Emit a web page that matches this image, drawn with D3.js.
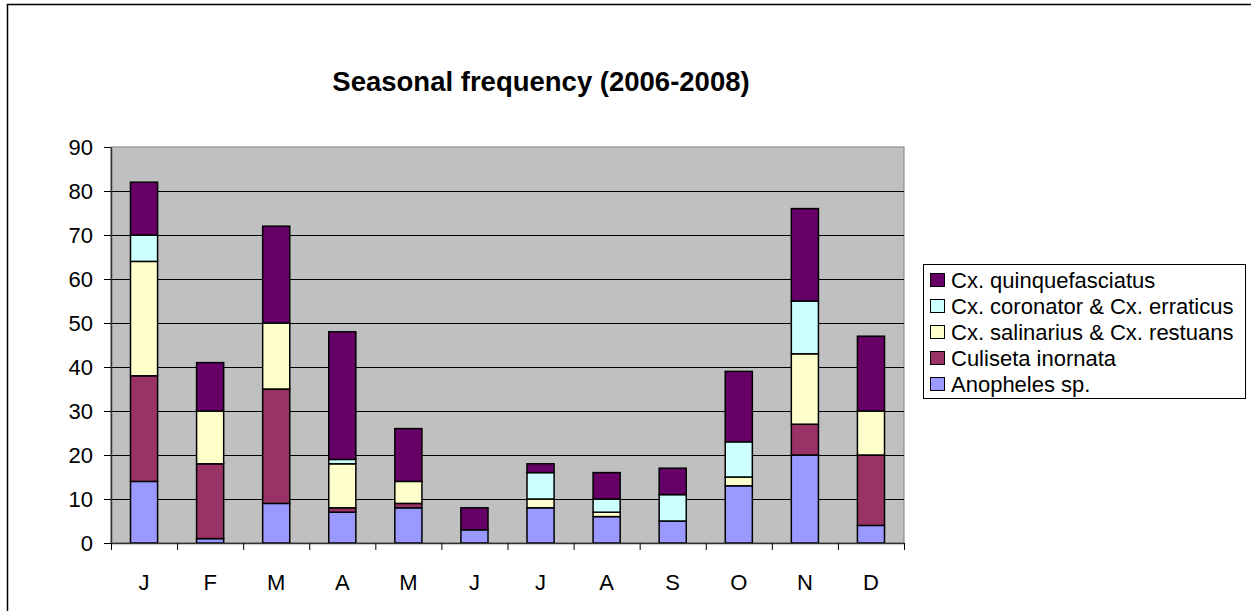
<!DOCTYPE html>
<html><head><meta charset="utf-8">
<script src="https://cdn.jsdelivr.net/npm/d3@7"></script>
<style>body{margin:0;background:#fff}svg{display:block}text{font-family:"Liberation Sans",Arial,sans-serif}</style>
</head><body><svg id="c" width="1251" height="611"></svg>
<script>
const months = ["J","F","M","A","M","J","J","A","S","O","N","D"];
const seriesNames = ["Anopheles sp.","Culiseta inornata","Cx. salinarius & Cx. restuans","Cx. coronator & Cx. erraticus","Cx. quinquefasciatus"];
const colors = ["#9999FF","#993366","#FFFFCC","#CCFFFF","#660066"];
const anopheles   = [14, 1, 9, 7, 8, 3, 8, 6, 5, 13, 20, 4];
const culiseta    = [24,17,26, 1, 1, 0, 0, 0, 0, 0, 7,16];
const salinarius  = [26,12,15,10, 5, 0, 2, 1, 0, 2,16,10];
const coronator   = [ 6, 0, 0, 1, 0, 0, 6, 3, 6, 8,12, 0];
const quinque     = [12,11,22,29,12, 5, 2, 6, 6,16,21,17];
const yTicks = [0,10,20,30,40,50,60,70,80,90];

const svg = d3.select("#c");
const L = 111, R = 904, T = 147, B = 543;

svg.append("rect").attr("x",7.5).attr("y",4.5).attr("width",1300).attr("height",700)
  .attr("fill","#fff").attr("stroke","#000").attr("stroke-width",1.5);

svg.append("text").attr("x",541).attr("y",91).attr("text-anchor","middle")
  .attr("font-size",27.5).attr("font-weight","bold").text("Seasonal frequency (2006-2008)");

const x = d3.scaleBand().domain(d3.range(12)).range([L,R]).paddingInner(0.59).paddingOuter(0.295);
const xb = d3.scaleLinear().domain([0,12]).range([L,R]);
const y = d3.scaleLinear().domain([0,90]).range([B,T]);

svg.append("rect").attr("x",L).attr("y",T).attr("width",R-L).attr("height",B-T)
  .attr("fill","#C0C0C0").attr("stroke","#808080").attr("stroke-width",1);

svg.append("g").selectAll("line").data(yTicks.filter(d=>d>0&&d<90)).join("line")
  .attr("x1",L).attr("x2",R).attr("y1",d=>Math.round(y(d))+0.5).attr("y2",d=>Math.round(y(d))+0.5)
  .attr("stroke","#000").attr("stroke-width",1);

const data = months.map((m,i)=>({i, v:[anopheles[i],culiseta[i],salinarius[i],coronator[i],quinque[i]]}));
const stack = d3.stack().keys([0,1,2,3,4]).value((d,k)=>d.v[k]);
const layers = stack(data);

svg.append("g").selectAll("g").data(layers).join("g")
  .attr("fill",(d,k)=>colors[k])
  .selectAll("rect").data(d=>d.filter(p=>p[1]-p[0]>0)).join("rect")
  .attr("x",d=>x(d.data.i)).attr("width",x.bandwidth())
  .attr("y",d=>y(d[1])).attr("height",d=>y(d[0])-y(d[1]))
  .attr("stroke","#000").attr("stroke-width",1.5);

// y axis
const ya = svg.append("g").attr("transform",`translate(${L},0)`)
  .call(d3.axisLeft(y).tickValues(yTicks).tickSize(7).tickPadding(11).tickSizeOuter(0));
ya.select(".domain").attr("stroke","#333").attr("stroke-width",1.5);
ya.selectAll(".tick line").attr("stroke","#000");
ya.selectAll("text").attr("font-size",22).attr("fill","#000").attr("font-family","Liberation Sans, Arial, sans-serif");

// x axis
const xa = svg.append("g").attr("transform",`translate(0,${B})`)
  .call(d3.axisBottom(xb).tickValues(d3.range(13)).tickSize(7).tickFormat("").tickSizeOuter(0));
xa.select(".domain").attr("stroke","#333").attr("stroke-width",1.5);
xa.selectAll(".tick line").attr("stroke","#000");
svg.append("g").selectAll("text").data(months).join("text")
  .attr("x",(d,i)=>x(i)+x.bandwidth()/2).attr("y",590).attr("text-anchor","middle")
  .attr("font-size",22).text(d=>d);

// legend
const lg = svg.append("g");
lg.append("rect").attr("x",923.5).attr("y",264.5).attr("width",322).attr("height",134)
  .attr("fill","#fff").attr("stroke","#000").attr("stroke-width",1);
const order = [4,3,2,1,0];
order.forEach((k,j)=>{
  const cy = 280 + j*26;
  lg.append("rect").attr("x",930.5).attr("y",cy-6.5).attr("width",14).attr("height",13)
    .attr("fill",colors[k]).attr("stroke","#000").attr("stroke-width",1);
  lg.append("text").attr("x",951).attr("y",cy+8).attr("font-size",22).text(seriesNames[k]);
});
</script></body></html>
